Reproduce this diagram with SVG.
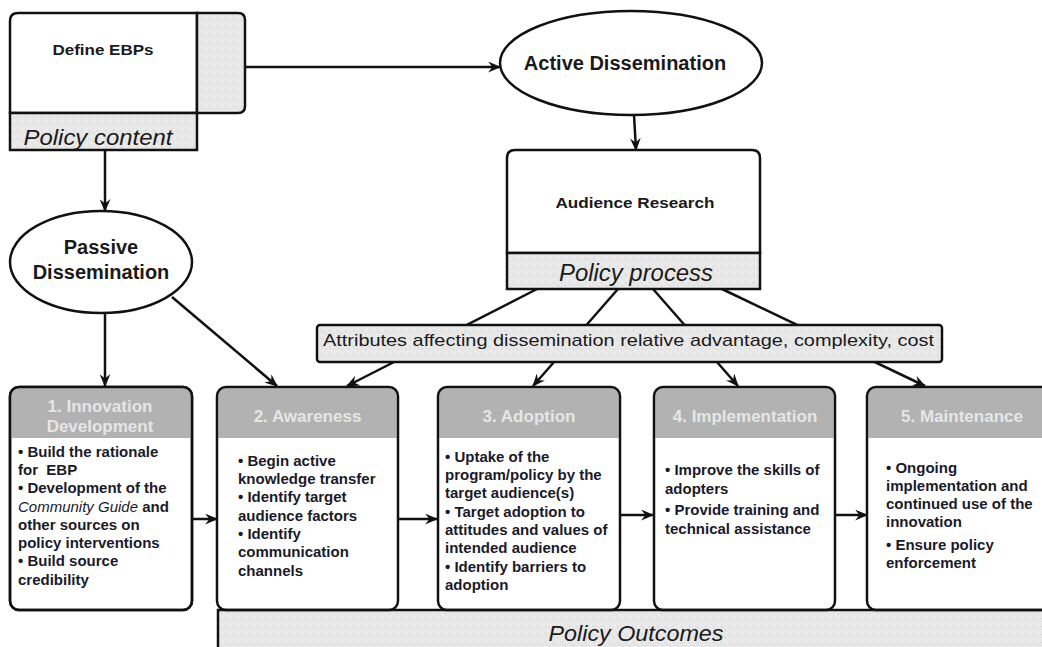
<svg xmlns="http://www.w3.org/2000/svg" width="1042" height="647" viewBox="0 0 1042 647">
<defs>
<pattern id="tex" width="8" height="8" patternUnits="userSpaceOnUse">
<rect width="8" height="8" fill="#e8e8e8"/>
<rect x="1" y="2" width="1" height="1" fill="#c8c8c8"/>
<rect x="5" y="5" width="1" height="1" fill="#cccccc"/>
<rect x="3" y="6" width="1" height="1" fill="#f8f8f8"/>
<rect x="6" y="1" width="1" height="1" fill="#f8f8f8"/>
<rect x="2" y="4" width="1" height="1" fill="#d6d6d6"/>
</pattern>
<marker id="ah" viewBox="0 0 12 10" refX="11" refY="5" markerWidth="13" markerHeight="11" markerUnits="userSpaceOnUse" orient="auto">
<path d="M0,0 L12,5 L0,10 L4,5 z" fill="#111"/>
</marker>
</defs>
<style>
.box{fill:#fff;stroke:#111;stroke-width:2.5}
.tex{fill:url(#tex);stroke:#111;stroke-width:2.5}
.hdr{fill:#b2b2b2}
.conn{stroke:#111;stroke-width:2.5;fill:none;marker-end:url(#ah)}
.t{font-family:"Liberation Sans",Arial,sans-serif;fill:#1a1a1a}
.b{font-weight:bold}
.it{font-style:italic}
.body{font-family:"Liberation Sans",Arial,sans-serif;font-weight:bold;font-size:15px;fill:#1a1a2a}
.ht{font-family:"Liberation Sans",Arial,sans-serif;font-weight:bold;font-size:17px;fill:#e6e6e6;text-anchor:middle}
</style>
<rect width="1042" height="647" fill="#fff"/>

<g id="connectors">
<path class="conn" d="M245,67 L500,67"/>
<path class="conn" d="M634,115 L636,150"/>
<path class="conn" d="M105,150 L105,211"/>
<path class="conn" d="M105,313 L105,386"/>
<path class="conn" d="M172,297 L277,386"/>
<path class="conn" d="M537,289 L347,386"/>
<path class="conn" d="M618,289 L533,386"/>
<path class="conn" d="M653,289 L738,386"/>
<path class="conn" d="M722,289 L925,386"/>
<path class="conn" d="M192,519 L217,519"/>
<path class="conn" d="M398,519 L437,519"/>
<path class="conn" d="M620,515 L653,515"/>
<path class="conn" d="M835,515 L867,515"/>
</g>

<g id="define-ebps">
<path class="box" d="M18,13 H197 V113 H10 V21 Q10,13 18,13 Z"/>
<path class="tex" d="M197,13 H238 Q245,13 245,20 V106 Q245,113 238,113 H197 Z"/>
<path class="tex" d="M10,113 H197 V150 H10 Z"/>
<text class="t b" x="103" y="55" font-size="15" text-anchor="middle" textLength="101" lengthAdjust="spacingAndGlyphs">Define EBPs</text>
<text class="t it" x="98" y="145" font-size="22" text-anchor="middle" textLength="149" lengthAdjust="spacingAndGlyphs">Policy content</text>
</g>

<g id="active-dissemination">
<ellipse cx="631" cy="63" rx="131" ry="52" class="box"/>
<text class="t b" x="625" y="70" font-size="20" text-anchor="middle">Active Dissemination</text>
</g>

<g id="audience-research">
<path class="box" d="M515,150 H752 Q760,150 760,158 V253 H507 V158 Q507,150 515,150 Z"/>
<path class="tex" d="M507,253 H760 V289 H507 Z"/>
<text class="t b" x="635" y="208" font-size="15" text-anchor="middle" textLength="159" lengthAdjust="spacingAndGlyphs">Audience Research</text>
<text class="t it" x="636" y="281" font-size="23" text-anchor="middle" textLength="154" lengthAdjust="spacingAndGlyphs">Policy process</text>
</g>

<g id="passive-dissemination">
<ellipse cx="101" cy="262" rx="91" ry="51" class="box"/>
<text class="t b" x="101" y="254" font-size="20" text-anchor="middle">Passive</text>
<text class="t b" x="101" y="279" font-size="20" text-anchor="middle">Dissemination</text>
</g>

<g id="attributes">
<rect class="tex" x="317" y="325" width="625" height="37" rx="3"/>
<text class="t" x="323" y="346" font-size="17" textLength="611" lengthAdjust="spacingAndGlyphs">Attributes affecting dissemination relative advantage, complexity, cost</text>
</g>

<g id="policy-outcomes">
<path class="tex" d="M218,647 V610 H1050 V652 H218"/>
<text class="t it" x="636" y="641" font-size="22" text-anchor="middle" textLength="175" lengthAdjust="spacingAndGlyphs">Policy Outcomes</text>
</g>

<g id="stage1">
<rect class="box" x="10" y="387" width="182" height="223" rx="9"/>
<path class="hdr" d="M19,388.3 H183 Q190.7,388.3 190.7,396 V438 H11.3 V396 Q11.3,388.3 19,388.3 Z"/>
<rect x="10" y="387" width="182" height="223" rx="9" fill="none" stroke="#111" stroke-width="2.5"/>
<text class="ht" x="100" y="412">1. Innovation</text>
<text class="ht" x="100" y="432">Development</text>
<text class="body" x="18" y="457">• Build the rationale</text>
<text class="body" x="18" y="475">for&#160; EBP</text>
<text class="body" x="18" y="493">• Development of the</text>
<text class="body" x="18" y="512"><tspan font-style="italic" font-weight="normal">Community Guide</tspan> and</text>
<text class="body" x="18" y="530">other sources on</text>
<text class="body" x="18" y="548">policy interventions</text>
<text class="body" x="18" y="566">• Build source</text>
<text class="body" x="18" y="585">credibility</text>
</g>

<g id="stage2">
<path class="hdr" d="M226,388.3 H389 Q396.7,388.3 396.7,396 V438 H218.3 V396 Q218.3,388.3 226,388.3 Z"/>
<rect x="217" y="387" width="181" height="223" rx="9" fill="none" stroke="#111" stroke-width="2.5"/>
<text class="ht" x="307.5" y="422">2. Awareness</text>
<text class="body" x="238" y="466">• Begin active</text>
<text class="body" x="238" y="484">knowledge transfer</text>
<text class="body" x="238" y="502">• Identify target</text>
<text class="body" x="238" y="521">audience factors</text>
<text class="body" x="238" y="539">• Identify</text>
<text class="body" x="238" y="557">communication</text>
<text class="body" x="238" y="576">channels</text>
</g>

<g id="stage3">
<path class="hdr" d="M447,388.3 H611 Q618.7,388.3 618.7,396 V438 H439.3 V396 Q439.3,388.3 447,388.3 Z"/>
<rect x="438" y="387" width="182" height="223" rx="9" fill="none" stroke="#111" stroke-width="2.5"/>
<text class="ht" x="529" y="422">3. Adoption</text>
<text class="body" x="445" y="462">• Uptake of the</text>
<text class="body" x="445" y="480">program/policy by the</text>
<text class="body" x="445" y="498">target audience(s)</text>
<text class="body" x="445" y="517">• Target adoption to</text>
<text class="body" x="445" y="535">attitudes and values of</text>
<text class="body" x="445" y="553">intended audience</text>
<text class="body" x="445" y="572">• Identify barriers to</text>
<text class="body" x="445" y="590">adoption</text>
</g>

<g id="stage4">
<path class="hdr" d="M662,388.3 H826 Q833.7,388.3 833.7,396 V438 H655.3 V396 Q655.3,388.3 662,388.3 Z"/>
<rect x="654" y="387" width="181" height="223" rx="9" fill="none" stroke="#111" stroke-width="2.5"/>
<text class="ht" x="745" y="422">4. Implementation</text>
<text class="body" x="665" y="475">• Improve the skills of</text>
<text class="body" x="665" y="494">adopters</text>
<text class="body" x="665" y="515">• Provide training and</text>
<text class="body" x="665" y="534">technical assistance</text>
</g>

<g id="stage5">
<path class="hdr" d="M876,388.3 H1050 V438 H868.3 V396 Q868.3,388.3 876,388.3 Z"/>
<rect x="867" y="387" width="190" height="223" rx="9" fill="none" stroke="#111" stroke-width="2.5"/>
<text class="ht" x="962" y="422">5. Maintenance</text>
<text class="body" x="886" y="473">• Ongoing</text>
<text class="body" x="886" y="491">implementation and</text>
<text class="body" x="886" y="509">continued use of the</text>
<text class="body" x="886" y="527">innovation</text>
<text class="body" x="886" y="550">• Ensure policy</text>
<text class="body" x="886" y="568">enforcement</text>
</g>
</svg>
